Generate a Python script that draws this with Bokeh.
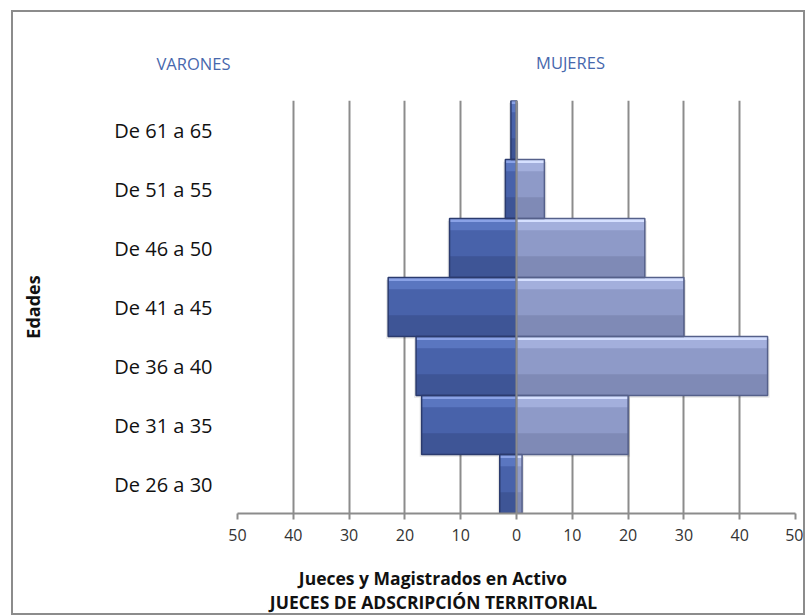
from bokeh.plotting import figure
from bokeh.layouts import column
from bokeh.models import FixedTicker, Label, Range1d, Span
from bokeh.embed import file_html
from bokeh.resources import INLINE

categorias = ["De 26 a 30", "De 31 a 35", "De 36 a 40", "De 41 a 45",
              "De 46 a 50", "De 51 a 55", "De 61 a 65"]
varones = [3, 17, 18, 23, 12, 2, 1]
mujeres = [1, 20, 45, 30, 23, 5, 0]
x_ticks = [-50, -40, -30, -20, -10, 0, 10, 20, 30, 40, 50]
x_tick_labels = ["50", "40", "30", "20", "10", "0", "10", "20", "30", "40", "50"]
serie_izq = "VARONES"
serie_der = "MUJERES"
eje_y = "Edades"
titulo_1 = "Jueces y Magistrados   en Activo"
titulo_2 = "JUECES DE ADSCRIPCIÓN TERRITORIAL"

W = 790
ypos = list(range(len(categorias)))
left_v = [-v for v in varones]
zeros = [0] * len(categorias)

# ---------- main chart ----------
p = figure(width=W, height=453, output_backend="svg", toolbar_location=None,
           x_range=Range1d(-50, 50), y_range=Range1d(-0.5, len(categorias) - 0.5),
           min_border_left=224, min_border_right=8, min_border_top=0,
           min_border_bottom=40)
p.frame_align = False
p.outline_line_color = None
p.background_fill_color = "white"
p.border_fill_color = "white"

p.ygrid.grid_line_color = None
p.xgrid.ticker = FixedTicker(ticks=x_ticks)
p.xgrid.grid_line_color = "#8c8c8c"
p.xgrid.grid_line_width = 2

# soft drop shadows
sh_dx = 0.35
p.quad(left=[l - sh_dx for l in left_v], right=zeros,
       bottom=[y - 0.5 - 0.04 for y in ypos], top=[y + 0.5 - 0.04 for y in ypos],
       fill_color="#000000", fill_alpha=0.10, line_color=None)
p.quad(left=zeros, right=[m + sh_dx for m in mujeres],
       bottom=[y - 0.5 - 0.04 for y in ypos], top=[y + 0.5 - 0.04 for y in ypos],
       fill_color="#000000", fill_alpha=0.10, line_color=None)

def bevel_bars(lefts, rights, base, top_col, hi_col, low_col, edge):
    p.hbar(y=ypos, left=lefts, right=rights, height=1.0, fill_color=base, line_color=None)
    p.hbar(y=[y - 0.32 for y in ypos], left=lefts, right=rights, height=0.36,
           fill_color=low_col, line_color=None)
    p.hbar(y=[y + 0.40 for y in ypos], left=lefts, right=rights, height=0.2,
           fill_color=top_col, line_color=None)
    p.hbar(y=[y + 0.465 for y in ypos], left=lefts, right=rights, height=0.05,
           fill_color=hi_col, line_color=None)
    p.hbar(y=ypos, left=lefts, right=rights, height=1.0, fill_color=None,
           line_color=edge, line_width=1.5)

bevel_bars(left_v, zeros, "#4862aa", "#5a76c0", "#8aa2e6", "#3e5596", "#2b3b6e")
bevel_bars(zeros, mujeres, "#8e9ac8", "#a3afdc", "#d6e0ff", "#7f8ab6", "#55608a")

p.add_layout(Span(location=0, dimension="height", line_color="#8c8c8c", line_width=2))

p.xaxis.ticker = FixedTicker(ticks=x_ticks)
p.xaxis.major_label_overrides = dict(zip(x_ticks, x_tick_labels))
p.xaxis.axis_line_color = "#8c8c8c"
p.xaxis.axis_line_width = 2
p.xaxis.major_tick_line_color = "#8c8c8c"
p.xaxis.major_tick_line_width = 2
p.xaxis.major_tick_out = 6
p.xaxis.major_tick_in = 0
p.xaxis.minor_tick_line_color = None
p.xaxis.major_label_text_font = "Open Sans"
p.xaxis.major_label_text_font_size = "16px"
p.xaxis.major_label_text_color = "#333333"
p.xaxis.major_label_standoff = 9

p.yaxis.ticker = FixedTicker(ticks=ypos)
p.yaxis.major_label_overrides = dict(zip(ypos, categorias))
p.yaxis.axis_line_color = None
p.yaxis.major_tick_line_color = None
p.yaxis.minor_tick_line_color = None
p.yaxis.major_tick_out = 0
p.yaxis.major_tick_in = 0
p.yaxis.major_label_text_font = "Open Sans"
p.yaxis.major_label_text_font_size = "20px"
p.yaxis.major_label_text_color = "#111111"
p.yaxis.major_label_standoff = 25
p.yaxis.axis_label = eje_y
p.yaxis.axis_label_text_font = "Open Sans"
p.yaxis.axis_label_text_font_style = "bold"
p.yaxis.axis_label_text_font_size = "18px"
p.yaxis.axis_label_text_color = "#111111"
p.yaxis.axis_label_standoff = 66

# ---------- text strips (pixel-unit ranges) ----------
def strip(h):
    f = figure(width=W, height=h, output_backend="svg", toolbar_location=None,
               x_range=Range1d(0, W), y_range=Range1d(0, h),
               x_axis_type=None, y_axis_type=None,
               min_border_left=0, min_border_right=0, min_border_top=0,
               min_border_bottom=0)
    f.frame_align = False
    f.outline_line_color = None
    f.background_fill_color = "white"
    f.border_fill_color = "white"
    return f

def add_text(fig, txt, x, y, size, color, bold=False):
    fig.add_layout(Label(x=x, y=y, text=txt, text_align="center",
                         text_baseline="middle", text_font="Open Sans",
                         text_font_size=size, text_color=color,
                         text_font_style="bold" if bold else "normal"))

top = strip(88)
add_text(top, serie_izq, 180, 37, "16.5px", "#4768ad")
add_text(top, serie_der, 557, 38.5, "16.5px", "#4768ad")

bottom = strip(60)
add_text(bottom, titulo_1, 424, 36, "17.5px", "#111111", True)
add_text(bottom, titulo_2, 420, 12, "17.5px", "#111111", True)

layout = column(top, p, bottom, spacing=0)
layout.margin = (10, 0, 0, 11)
layout.styles = {"border": "2px solid #8c8c8c", "background-color": "white"}

open("out.html", "w").write(file_html(layout, INLINE))
